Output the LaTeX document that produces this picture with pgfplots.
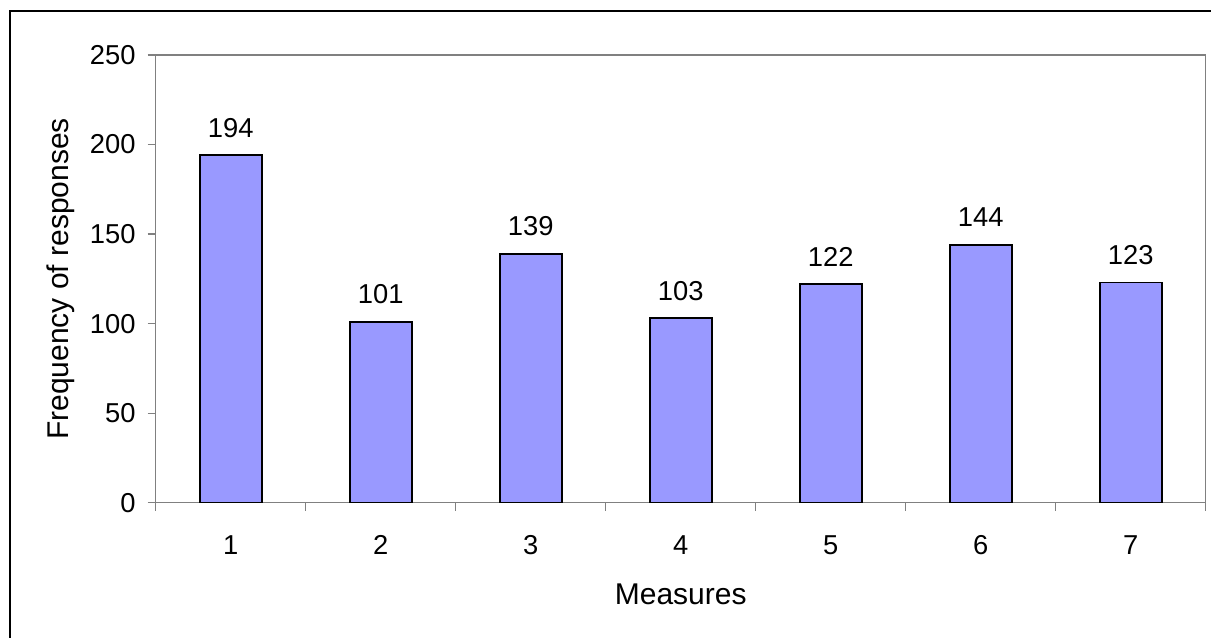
\documentclass[border=0pt]{standalone}
\usepackage{pgfplots}
\pgfplotsset{compat=1.18}
\usepackage{fontspec}
\setmainfont{Liberation Sans}
\definecolor{barfill}{HTML}{9999FF}
\definecolor{framegray}{HTML}{808080}

\begin{document}
\begin{tikzpicture}[x=0.75pt,y=0.75pt]
\useasboundingbox (0,0) rectangle (1211,637);
% chart frame, running off the right and bottom edges
\draw[black, line width=1.1pt] (10,-20) -- (10,626) -- (1240,626);
\begin{axis}[
  at={(116.8pt,100.7pt)}, anchor=south west,
  scale only axis, width=787.5pt, height=335.8pt,
  xmin=0.5, xmax=7.5, ymin=0, ymax=250,
  axis line style={framegray, line width=0.9pt},
  tick align=outside, major tick length=6pt,
  tick style={framegray, line width=0.9pt},
  xtick={0.5,1.5,...,7.5}, xticklabels={},
  extra x ticks={1,2,3,4,5,6,7},
  extra x tick labels={1,2,3,4,5,6,7},
  extra x tick style={tick style={draw=none}},
  xticklabel style={anchor=center, yshift=-25.5pt},
  ytick={0,50,...,250},
  yticklabel style={anchor=east, inner sep=0pt, xshift=-9pt},
  ticklabel style={font=\fontsize{20.5}{24}\selectfont, text=black},
  xtick pos=bottom, ytick pos=left,
  /pgf/number format/assume math mode=true,
  xlabel={Measures},
  ylabel={Frequency of responses},
  label style={font=\fontsize{22.5}{26}\selectfont, text=black},
  xlabel style={at={(axis description cs:0.5,0)}, anchor=center, yshift=-68.5pt},
  ylabel style={at={(axis description cs:0,0.5)}, anchor=center, yshift=71.5pt},
  ybar, bar width=46.5pt,
  nodes near coords,
  nodes near coords style={anchor=center, yshift=20.7pt, font=\fontsize{20.5}{24}\selectfont, text=black},
]
\addplot[fill=barfill, draw=black, line width=1.4pt] coordinates {
  (1,194) (2,101) (3,139) (4,103) (5,122) (6,144) (7,123)
};
\end{axis}
\end{tikzpicture}
\end{document}
